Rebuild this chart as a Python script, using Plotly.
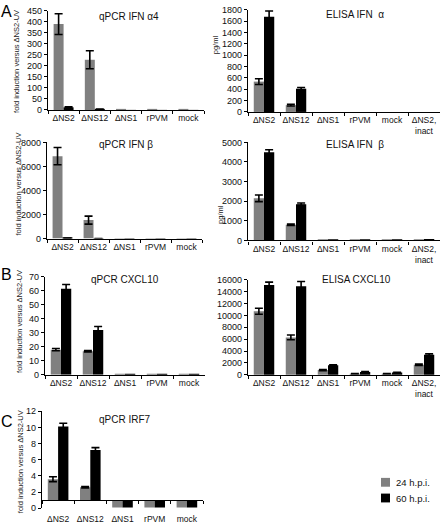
import plotly.graph_objects as go

W, H = 448, 529

cats5 = ["ΔNS2", "ΔNS12", "ΔNS1", "rPVM", "mock"]
cats6 = ["ΔNS2", "ΔNS12", "ΔNS1", "rPVM", "mock", "ΔNS2,<br>inact"]

# Error arrays list only the leading categories that carry a visible error bar.

# A: qPCR IFN alpha4 (fold induction)
ifna4_24 = [390, 228, 0.5, 0.5, 0.5]
ifna4_24_err = [47, 41]
ifna4_60 = [12, 3, 0.3, 0.3, 0.3]
ifna4_60_err = [3, 1]

# A: ELISA IFN alpha (pg/ml)
elisa_ifna_24 = [535, 120, 0, 0, 0, 0]
elisa_ifna_24_err = [50, 15]
elisa_ifna_60 = [1680, 410, 0, 0, 0, 0]
elisa_ifna_60_err = [100, 20]

# A: qPCR IFN beta
ifnb_24 = [6850, 1530, 2, 2, 2]
ifnb_24_err = [720, 330]
ifnb_60 = [30, 5, 1, 1, 1]
ifnb_60_err = [5, 1]

# A: ELISA IFN beta
elisa_ifnb_24 = [2150, 800, 30, 20, 20, 40]
elisa_ifnb_24_err = [170, 40]
elisa_ifnb_60 = [4500, 1850, 30, 20, 20, 80]
elisa_ifnb_60_err = [120, 60]

# B: qPCR CXCL10
cxcl10_24 = [18, 16.8, 0.4, 0.3, 0.3]
cxcl10_24_err = [0.8, 0.5]
cxcl10_60 = [61.5, 32, 0.5, 0.3, 0.3]
cxcl10_60_err = [3, 2.5]

# B: ELISA CXCL10
elisa_cxcl10_24 = [10700, 6300, 800, 200, 200, 1700]
elisa_cxcl10_24_err = [500, 400, 100, 30, 30, 100]
elisa_cxcl10_60 = [15100, 14900, 1600, 500, 400, 3400]
elisa_cxcl10_60_err = [500, 800, 80, 50, 40, 150]

# C: qPCR IRF7 (baseline 1)
irf7_24 = [3.6, 2.6, 0.1, 0.1, 0.1]
irf7_24_err = [0.3, 0.1]
irf7_60 = [10.1, 7.2, 0.1, 0.1, 0.1]
irf7_60_err = [0.4, 0.3]

series_names = ["24 h.p.i.", "60 h.p.i."]

GRAY = "#808080"
BLACK = "#000000"
FONT = "Liberation Sans, Arial, sans-serif"

panels = [
    dict(cats=cats5, d=(ifna4_24, ifna4_24_err, ifna4_60, ifna4_60_err), base=0,
         px=(48, 204), py=(6, 107), rng=[0, 450], dtick=50, title="qPCR IFN α4", t=(129, 12)),
    dict(cats=cats6, d=(elisa_ifna_24, elisa_ifna_24_err, elisa_ifna_60, elisa_ifna_60_err), base=0,
         px=(248, 440), py=(5, 109), rng=[0, 1800], dtick=200, title="ELISA IFN \u00a0α", t=(355, 10)),
    dict(cats=cats5, d=(ifnb_24, ifnb_24_err, ifnb_60, ifnb_60_err), base=0,
         px=(47, 202), py=(140, 238), rng=[0, 8000], dtick=2000, title="qPCR IFN β", t=(126, 142)),
    dict(cats=cats6, d=(elisa_ifnb_24, elisa_ifnb_24_err, elisa_ifnb_60, elisa_ifnb_60_err), base=0,
         px=(248, 440), py=(140, 240), rng=[0, 5000], dtick=1000, title="ELISA IFN \u00a0β", t=(355, 142)),
    dict(cats=cats5, d=(cxcl10_24, cxcl10_24_err, cxcl10_60, cxcl10_60_err), base=0,
         px=(45, 205), py=(277, 377), rng=[0, 70], dtick=10, title="qPCR CXCL10", t=(125, 280)),
    dict(cats=cats6, d=(elisa_cxcl10_24, elisa_cxcl10_24_err, elisa_cxcl10_60, elisa_cxcl10_60_err), base=0,
         px=(248, 440), py=(280, 377), rng=[0, 16000], dtick=2000, title="ELISA CXCL10", t=(356, 280)),
    dict(cats=cats5, d=(irf7_24, irf7_24_err, irf7_60, irf7_60_err), base=1,
         px=(42, 203), py=(414, 513), rng=[0, 12], dtick=2, title="qPCR IRF7", t=(125, 422)),
]


def fx(p):
    return p / W


def fy(p):
    return 1 - p / H


fig = go.Figure()
layout = dict(
    width=W, height=H, margin=dict(l=0, r=0, t=0, b=0),
    paper_bgcolor="white", plot_bgcolor="white",
    bargap=0.36, bargroupgap=0.0, barmode="group", showlegend=False,
    font=dict(family=FONT, size=9, color="#111"),
)

annotations = []
shapes = []

for i, p in enumerate(panels, start=1):
    xa = "x" if i == 1 else f"x{i}"
    ya = "y" if i == 1 else f"y{i}"
    v24, e24, v60, e60 = p["d"]
    b = p["base"]
    for vals, errs, col, name in ((v24, e24, GRAY, series_names[0]), (v60, e60, BLACK, series_names[1])):
        fig.add_trace(go.Bar(
            x=p["cats"], y=[v - b for v in vals], base=b, name=name,
            marker=dict(color=col, line=dict(width=0)),
            error_y=dict(type="data", array=errs, visible=True, color="black", thickness=1.6, width=4),
            xaxis=xa, yaxis=ya,
        ))
    xkey = "xaxis" if i == 1 else f"xaxis{i}"
    ykey = "yaxis" if i == 1 else f"yaxis{i}"
    ydom = [fy(p["py"][1]), fy(p["py"][0])]
    xaxis = dict(
        domain=[fx(p["px"][0]), fx(p["px"][1])], anchor=ya, type="category",
        showline=True, linecolor="black", linewidth=1.4, ticks="outside", tickson="boundaries",
        ticklen=3, tickwidth=1.4, tickcolor="black", showgrid=False, zeroline=False,
        tickangle=0, tickfont=dict(size=8.5, color="#111"), fixedrange=True,
    )
    if b != 0:
        # axis line sits at the baseline value
        frac = (b - p["rng"][0]) / (p["rng"][1] - p["rng"][0])
        xaxis.update(anchor="free", position=ydom[0] + frac * (ydom[1] - ydom[0]), ticklabelstandoff=10)
    layout[xkey] = xaxis
    layout[ykey] = dict(
        domain=ydom, anchor=xa, range=p["rng"], dtick=p["dtick"], tick0=0, tickformat="d",
        showline=True, linecolor="black", linewidth=1.4, ticks="outside", ticklen=3,
        tickwidth=1.4, tickcolor="black", showgrid=False, zeroline=False,
        tickfont=dict(size=9, color="#111"), fixedrange=True,
    )
    annotations.append(dict(
        text=p["title"], x=fx(p["t"][0]), y=fy(p["t"][1]), xref="paper", yref="paper",
        showarrow=False, font=dict(size=10, color="#111"), xanchor="center", yanchor="middle",
    ))

# y-axis titles
ytitles = [
    ("fold induction versus ΔNS2-UV", 17, 58),
    ("fold induction versus ΔNS2-UV", 19, 183),
    ("fold induction versus ΔNS2-UV", 20, 323),
    ("fold induction versus ΔNS2-UV", 20, 466),
    ("pg/ml", 215, 41),
    ("pg/ml", 221, 214),
]
for txt, x, y in ytitles:
    annotations.append(dict(
        text=txt, x=fx(x), y=fy(y), xref="paper", yref="paper", showarrow=False,
        textangle=-90, font=dict(size=7.5, color="#222"), xanchor="center", yanchor="middle",
    ))

# panel letters
for txt, x, y in (("A", 6, 7), ("B", 6, 275), ("C", 7, 425)):
    annotations.append(dict(
        text=txt, x=fx(x), y=fy(y), xref="paper", yref="paper", showarrow=False,
        font=dict(size=16, color="black"), xanchor="center", yanchor="middle",
    ))

# legend
for (col, name), yc in zip(((GRAY, series_names[0]), (BLACK, series_names[1])), (486.5, 502.5)):
    shapes.append(dict(type="rect", xref="paper", yref="paper",
                       x0=fx(381), x1=fx(390), y0=fy(yc - 4.5), y1=fy(yc + 4.5),
                       fillcolor=col, line=dict(width=0)))
    annotations.append(dict(
        text=name, x=fx(394), y=fy(yc), xref="paper", yref="paper", showarrow=False,
        font=dict(size=9.5, color="#111"), xanchor="left", yanchor="middle",
    ))

layout["annotations"] = annotations
layout["shapes"] = shapes
fig.update_layout(**layout)
fig.write_html(
    "out.html",
    config=dict(displayModeBar=False),
    post_script="document.body.style.margin='0';document.body.style.padding='0';"
                "document.body.style.overflow='hidden';",
)
